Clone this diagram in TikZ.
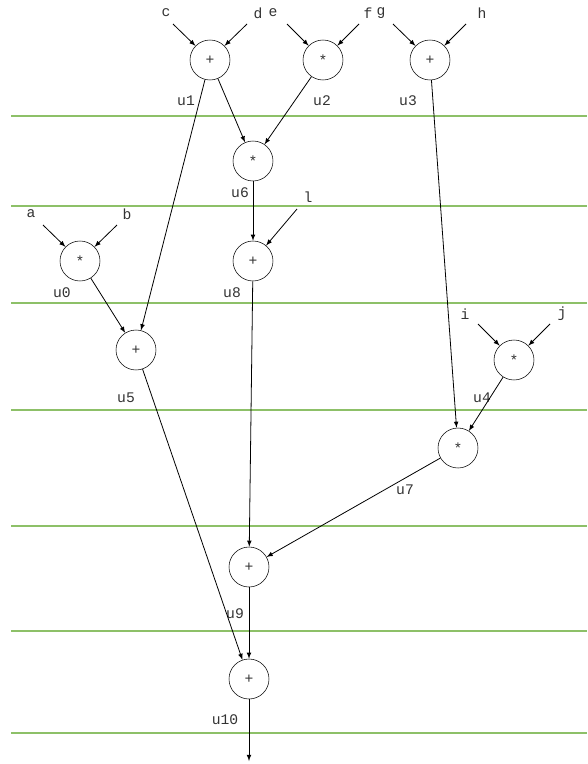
\documentclass[tikz,border=0pt]{standalone}
\usepackage{fontspec}
\setmainfont{Liberation Mono}
\usetikzlibrary{positioning}

\begin{document}
\begin{tikzpicture}
  [x=0.75pt,y=-0.75pt,>=latex,
  every node/.style={font=\fontsize{11}{13}\selectfont,text=black!80},
  op/.style={circle,draw=black,minimum size=30pt,inner sep=0pt},
  stage/.style={draw={rgb,255:red,141;green,192;blue,104},line width=0.9pt},
  wire/.style={->,line width=0.6pt}]
  \useasboundingbox (0,0) rectangle (587,764);

  \foreach \y in {116,206,303,410,526,631,733}
    \draw[stage] (11,\y) -- (587,\y);

  \node[op] (u1) at (210,60) {+};
  \node[op] (u2) at (323,60) {*};
  \node[op] (u3) at (430,60) {+};
  \node[op] (u6) at (253,161) {*};
  \node[op] (u0) at (80,261) {*};
  \node[op] (u8) at (253,261) {+};
  \node[op] (u5) at (136,350) {+};
  \node[op] (u4) at (514,360) {*};
  \node[op] (u7) at (458,448) {*};
  \node[op] (u9) at (249,567) {+};
  \node[op] (u10) at (249,679) {+};

  \node (lu1) at (186,101) {u1};
  \node (lu2) at (322,101) {u2};
  \node (lu3) at (408,101) {u3};
  \node (lu6) at (240,193) {u6};
  \node (lu0) at (62,293) {u0};
  \node (lu8) at (232,293) {u8};
  \node (lu5) at (126,398) {u5};
  \node (lu4) at (482,398) {u4};
  \node (lu7) at (405,490) {u7};
  \node (lu9) at (235,614) {u9};
  \node (lu10) at (225,720) {u10};

  \node (c) at (166,13) {c};
  \node (d) at (258,13) {d};
  \node (e) at (273,13) {e};
  \node (f) at (368,13) {f};
  \node (g) at (381,13) {g};
  \node (h) at (482,13) {h};
  \node (a) at (31,214) {a};
  \node (b) at (127,214) {b};
  \node (l) at (308,197) {l};
  \node (i) at (465,314) {i};
  \node (j) at (562,314) {j};

  \coordinate (tc) at (173,24);
  \coordinate (td) at (247,24);
  \coordinate (te) at (287,24);
  \coordinate (tf) at (359,24);
  \coordinate (tg) at (393,24);
  \coordinate (th) at (466,24);
  \coordinate (ta) at (43,225);
  \coordinate (tb) at (117,225);
  \coordinate (tl) at (297,209);
  \coordinate (ti) at (478,324);
  \coordinate (tj) at (550,324);
  \coordinate (out) at (249,761);

  \draw[wire] (tc) -- (u1);
  \draw[wire] (td) -- (u1);
  \draw[wire] (te) -- (u2);
  \draw[wire] (tf) -- (u2);
  \draw[wire] (tg) -- (u3);
  \draw[wire] (th) -- (u3);
  \draw[wire] (ta) -- (u0);
  \draw[wire] (tb) -- (u0);
  \draw[wire] (tl) -- (u8);
  \draw[wire] (ti) -- (u4);
  \draw[wire] (tj) -- (u4);

  \draw[wire] (u1) -- (u6);
  \draw[wire] (u2) -- (u6);
  \draw[wire] (u1) -- (u5);
  \draw[wire] (u0) -- (u5);
  \draw[wire] (u6) -- (u8);
  \draw[wire] (u3) -- (u7);
  \draw[wire] (u4) -- (u7);
  \draw[wire] (u8) -- (u9);
  \draw[wire] (u7) -- (u9);
  \draw[wire] (u5) -- (u10);
  \draw[wire] (u9) -- (u10);
  \draw[wire] (u10) -- (out);
\end{tikzpicture}
\end{document}
